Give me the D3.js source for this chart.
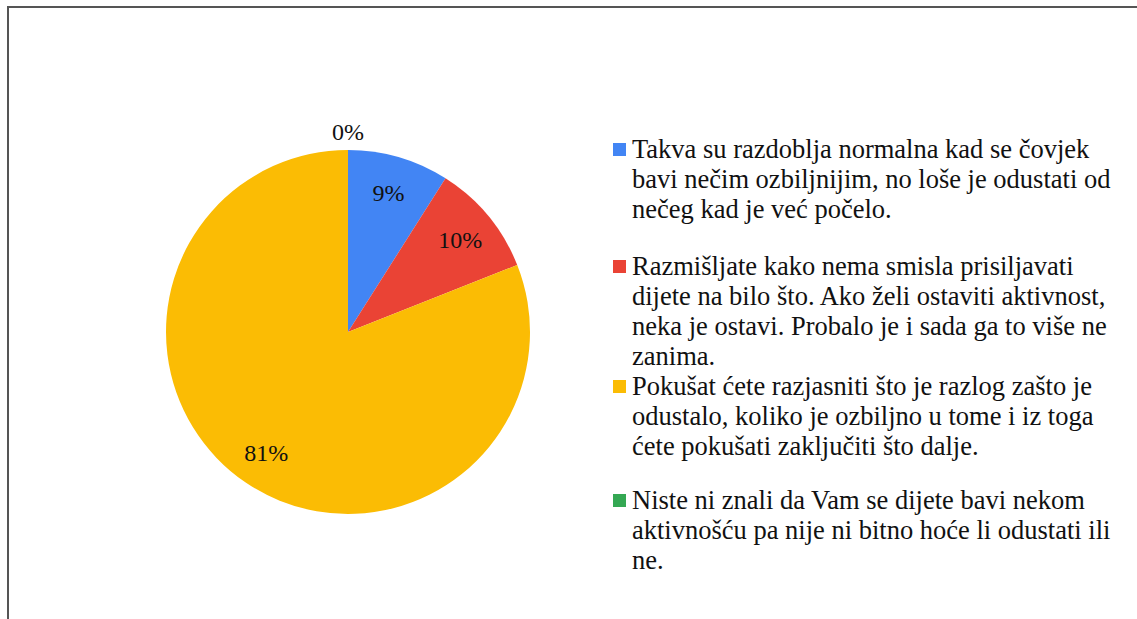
<!DOCTYPE html>
<html>
<head>
<meta charset="utf-8">
<script src="https://cdn.jsdelivr.net/npm/d3@7"></script>
</head>
<body style="margin:0">
<svg id="chart" width="1137" height="619"></svg>
<script>
// Answer categories (legend text, already split into lines as in the picture)
const categories = [
  ["Takva su razdoblja normalna kad se čovjek", "bavi nečim ozbiljnijim, no loše je odustati od", "nečeg kad je već počelo."],
  ["Razmišljate kako nema smisla prisiljavati", "dijete na bilo što. Ako želi ostaviti aktivnost,", "neka je ostavi. Probalo je i sada ga to više ne", "zanima."],
  ["Pokušat ćete razjasniti što je razlog zašto je", "odustalo, koliko je ozbiljno u tome i iz toga", "ćete pokušati zaključiti što dalje."],
  ["Niste ni znali da Vam se dijete bavi nekom", "aktivnošću pa nije ni bitno hoće li odustati ili", "ne."]
]
// Share of answers, percent
const values = [9, 10, 81, 0]
const colors = ["#4285f4", "#ea4335", "#fbbc04", "#34a853"]

const font = "Liberation Serif"
const svg = d3.select("#chart")

// Frame (only top and left edges are visible in the reference)
svg.append("path")
   .attr("d", "M8,619 V7 H1137")
   .attr("fill", "none")
   .attr("stroke", "#555")
   .attr("stroke-width", 2)

// Pie
const cx = 348, cy = 332, radius = 182
const pie = d3.pie().sort(null).value(d => d)
const arcs = pie(values)
const arc = d3.arc().innerRadius(0).outerRadius(radius)

const g = svg.append("g").attr("transform", `translate(${cx},${cy})`)

g.selectAll("path")
 .data(arcs)
 .enter()
 .append("path")
 .attr("d", arc)
 .attr("fill", (d, i) => colors[i])

// Percentage labels
const labelArc = d3.arc().innerRadius(radius * 0.8).outerRadius(radius * 0.8)
const outerArc = d3.arc().innerRadius(radius * 1.1).outerRadius(radius * 1.1)

g.selectAll("text.pct")
 .data(arcs)
 .enter()
 .append("text")
 .attr("class", "pct")
 .attr("text-anchor", "middle")
 .attr("dy", "0.35em")
 .style("font-family", font)
 .style("font-size", "24px")
 .attr("fill", "#111")
 .attr("transform", d => {
    const c = d.data === 0 ? outerArc.centroid(d) : labelArc.centroid(d)
    return `translate(${c[0]},${c[1]})`
 })
 .text(d => d.data + "%")

// Legend
const legendX = 613
const legendTops = [150, 267, 387, 501]
const lineHeight = 30

const legend = svg.selectAll("g.legend")
  .data(categories)
  .enter()
  .append("g")
  .attr("class", "legend")
  .attr("transform", (d, i) => `translate(${legendX},${legendTops[i]})`)

legend.append("rect")
  .attr("x", 0)
  .attr("y", -7)
  .attr("width", 13)
  .attr("height", 13)
  .attr("fill", (d, i) => colors[i])

legend.append("text")
  .style("font-family", font)
  .style("font-size", "26.5px")
  .attr("fill", "#111")
  .selectAll("tspan")
  .data(d => d)
  .enter()
  .append("tspan")
  .attr("x", 19)
  .attr("y", (d, j) => j * lineHeight)
  .attr("dy", "0.3em")
  .text(d => d)
</script>
</body>
</html>
